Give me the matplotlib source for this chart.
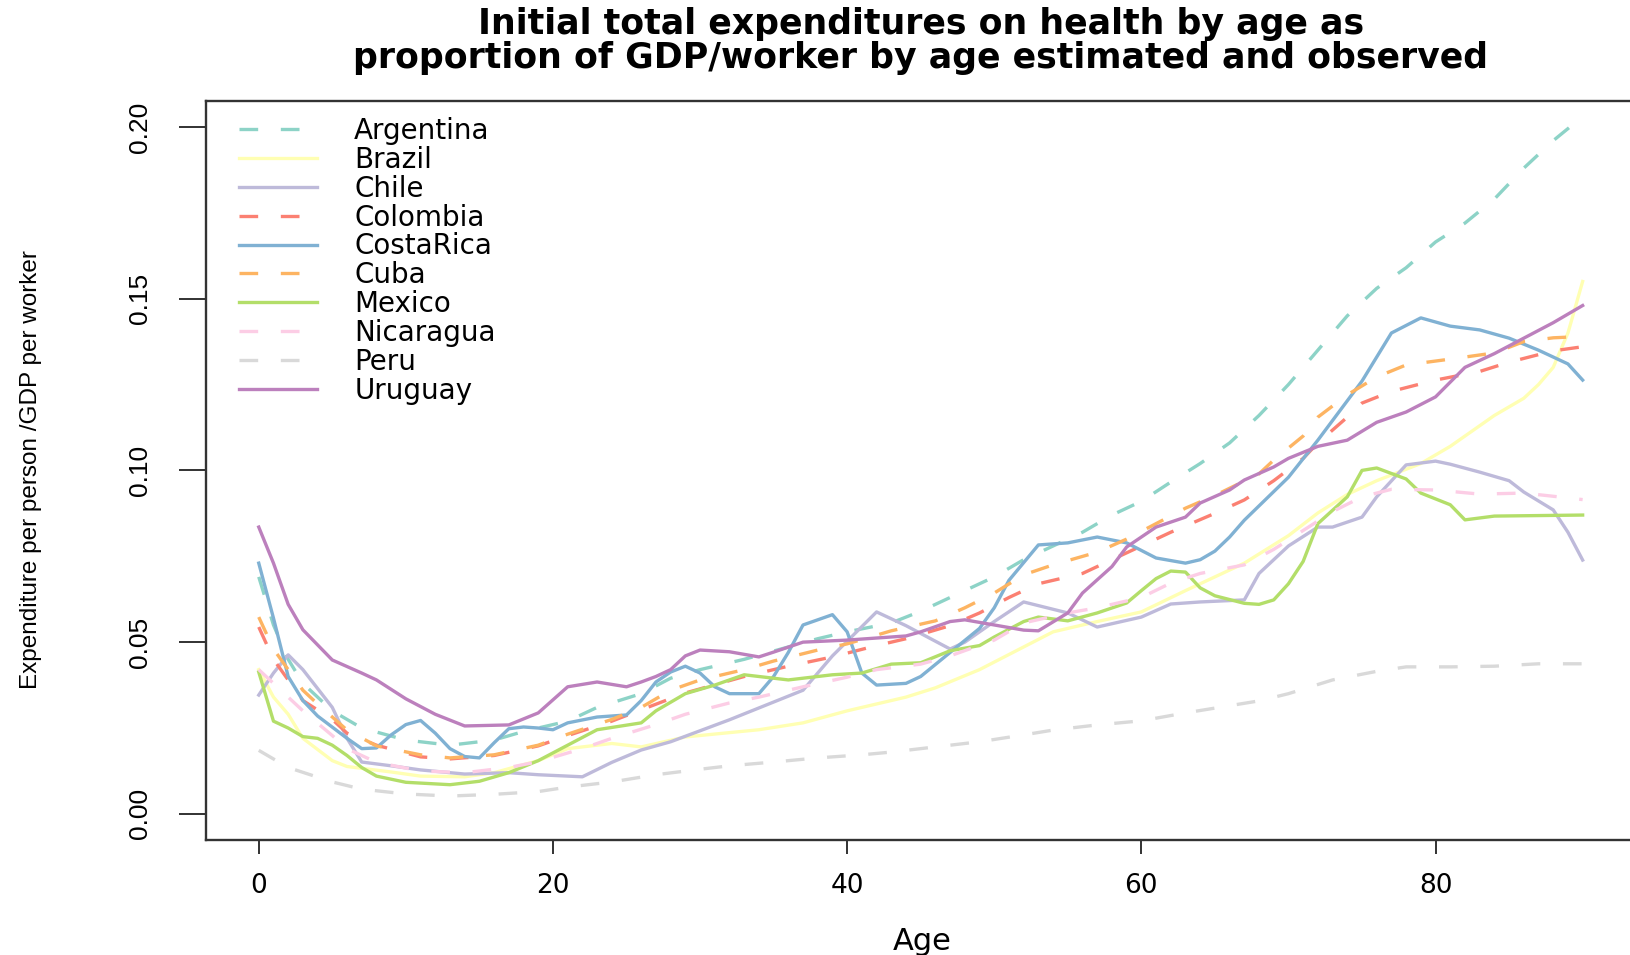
import matplotlib
matplotlib.use("Agg")
import matplotlib.pyplot as plt
from matplotlib import font_manager

# ---------------- data ----------------
countries = ["Argentina", "Brazil", "Chile", "Colombia", "CostaRica",
             "Cuba", "Mexico", "Nicaragua", "Peru", "Uruguay"]

argentina_age = [0, 1, 2, 3, 5, 7, 10, 13, 16, 18, 21, 23, 26, 28, 30, 33, 38, 40, 43, 45,
                 48, 50, 52, 54, 56, 58, 60, 62, 64, 66, 68, 70, 72, 74, 76, 78, 80, 82, 84, 86, 88, 90]
argentina = [0.069, 0.055, 0.045, 0.038, 0.030, 0.025, 0.0215, 0.020, 0.0215, 0.024, 0.027, 0.031,
             0.035, 0.0395, 0.042, 0.045, 0.051, 0.053, 0.0556, 0.059, 0.065, 0.069, 0.074, 0.078,
             0.082, 0.087, 0.091, 0.0966, 0.102, 0.108, 0.116, 0.125, 0.135, 0.145, 0.153, 0.159,
             0.1665, 0.172, 0.179, 0.188, 0.196, 0.203]

brazil_age = [0, 1, 2, 3, 5, 6, 9, 11, 14, 16, 19, 21, 23, 24, 26, 29, 34, 37, 40, 44, 46, 49, 52,
              54, 57, 60, 63, 65, 67, 70, 72, 74, 76, 79, 81, 84, 86, 87, 88, 89, 90]
brazil = [0.042, 0.034, 0.029, 0.022, 0.0155, 0.0138, 0.0122, 0.011, 0.0108, 0.012, 0.0155, 0.019,
          0.020, 0.0205, 0.0195, 0.0224, 0.0245, 0.0265, 0.030, 0.034, 0.0367, 0.042, 0.0486, 0.053,
          0.056, 0.0588, 0.065, 0.069, 0.073, 0.081, 0.0876, 0.093, 0.097, 0.102, 0.107, 0.116,
          0.121, 0.125, 0.130, 0.140, 0.155]

chile_age = [0, 1, 2, 3, 5, 6, 7, 9, 11, 14, 17, 19, 22, 24, 26, 28, 32, 37, 39, 42, 44, 47, 48, 50,
             52, 55, 57, 60, 62, 64, 67, 68, 70, 72, 73, 75, 76, 78, 80, 81, 83, 85, 86, 88, 89, 90]
chile = [0.0346, 0.041, 0.0463, 0.042, 0.031, 0.022, 0.0151, 0.014, 0.0128, 0.0116, 0.012, 0.0114,
         0.0108, 0.015, 0.0186, 0.021, 0.0274, 0.036, 0.046, 0.0588, 0.0548, 0.048, 0.050, 0.056,
         0.0617, 0.0585, 0.0544, 0.0573, 0.0611, 0.0617, 0.0623, 0.070, 0.078, 0.0835, 0.0835,
         0.0864, 0.0923, 0.1016, 0.1027, 0.1018, 0.0995, 0.097, 0.0937, 0.0885, 0.082, 0.0739]

colombia_age = [0, 1, 3, 5, 6, 8, 11, 13, 16, 19, 21, 24, 26, 29, 33, 36, 39, 42, 44, 47, 49, 51,
                53, 56, 58, 60, 62, 65, 67, 69, 71, 72, 74, 75, 77, 80, 83, 85, 88, 90]
colombia = [0.0544, 0.045, 0.033, 0.0275, 0.0235, 0.020, 0.0166, 0.016, 0.017, 0.0198, 0.0228,
            0.027, 0.0303, 0.0352, 0.040, 0.043, 0.0457, 0.049, 0.051, 0.0548, 0.0585, 0.063, 0.067,
            0.070, 0.074, 0.078, 0.082, 0.0875, 0.0914, 0.097, 0.1035, 0.108, 0.1155, 0.1196,
            0.123, 0.1263, 0.1288, 0.1315, 0.1348, 0.136]

costarica_age = [0, 1, 2, 3, 4, 6, 7, 8, 9, 10, 11, 12, 13, 14, 15, 16, 17, 18, 19, 20, 21, 23,
                 25, 26, 27, 28, 29, 30, 31, 32, 34, 35, 36, 37, 39, 40, 41, 42, 44, 45, 47, 49,
                 50, 51, 53, 55, 57, 59, 61, 63, 64, 65, 66, 67, 70, 72, 75, 77, 79, 81, 83, 85,
                 87, 89, 90]
costarica = [0.073, 0.057, 0.040, 0.033, 0.0285, 0.022, 0.019, 0.0192, 0.023, 0.026, 0.0272,
             0.0235, 0.019, 0.0167, 0.0163, 0.0207, 0.0248, 0.0253, 0.025, 0.0245, 0.0265, 0.0282,
             0.0288, 0.033, 0.0384, 0.0413, 0.043, 0.041, 0.037, 0.035, 0.035, 0.040, 0.047, 0.055,
             0.058, 0.053, 0.041, 0.0375, 0.038, 0.040, 0.047, 0.054, 0.060, 0.068, 0.0783, 0.0789,
             0.0806, 0.0789, 0.0745, 0.073, 0.074, 0.0765, 0.0806, 0.0855, 0.098, 0.1088, 0.126,
             0.140, 0.1444, 0.142, 0.1409, 0.1385, 0.135, 0.131, 0.1263]

cuba_age = [0, 1, 3, 4, 6, 8, 11, 13, 16, 19, 21, 24, 26, 28, 30, 33, 35, 38, 40, 43, 46, 48, 50,
            52, 54, 57, 59, 61, 63, 65, 68, 69, 71, 72, 74, 76, 78, 81, 84, 86, 88, 90]
cuba = [0.0573, 0.048, 0.036, 0.032, 0.0244, 0.0198, 0.0172, 0.0163, 0.0172, 0.020, 0.0232, 0.0275,
        0.031, 0.036, 0.039, 0.042, 0.0445, 0.0477, 0.0495, 0.0533, 0.0562, 0.060, 0.0643, 0.0696,
        0.0725, 0.0762, 0.080, 0.0845, 0.089, 0.0927, 0.099, 0.103, 0.110, 0.1155, 0.122, 0.1272,
        0.1307, 0.1324, 0.1342, 0.1375, 0.1386, 0.139]

mexico_age = [0, 1, 2, 3, 4, 5, 6, 7, 8, 10, 13, 15, 17, 19, 21, 23, 26, 27, 29, 31, 33, 36, 39,
              41, 43, 45, 47, 49, 50, 52, 53, 55, 57, 59, 60, 61, 62, 63, 64, 65, 67, 68, 69, 70,
              71, 72, 74, 75, 76, 78, 79, 81, 82, 84, 90]
mexico = [0.0413, 0.027, 0.025, 0.0225, 0.022, 0.020, 0.017, 0.0135, 0.011, 0.0092, 0.0085,
          0.0095, 0.012, 0.0155, 0.020, 0.0245, 0.0265, 0.030, 0.035, 0.0375, 0.0405, 0.039,
          0.0405, 0.041, 0.0436, 0.044, 0.0475, 0.049, 0.0515, 0.056, 0.0573, 0.0562, 0.0585,
          0.0614, 0.065, 0.0685, 0.0707, 0.0704, 0.0658, 0.0635, 0.0613, 0.061, 0.0623, 0.067,
          0.0735, 0.0845, 0.0923, 0.100, 0.1007, 0.0975, 0.0934, 0.090, 0.0856, 0.0867, 0.087]

nicaragua_age = [0, 1, 3, 5, 6, 8, 11, 14, 17, 19, 22, 24, 27, 29, 32, 34, 37, 40, 42, 45, 47, 50,
                 52, 55, 57, 60, 62, 64, 67, 69, 71, 73, 75, 77, 80, 83, 86, 89, 90]
nicaragua = [0.042, 0.038, 0.030, 0.0228, 0.019, 0.015, 0.0125, 0.012, 0.0135, 0.0152, 0.019,
             0.022, 0.026, 0.029, 0.0323, 0.034, 0.037, 0.0398, 0.042, 0.0436, 0.046, 0.0506,
             0.0556, 0.0585, 0.060, 0.063, 0.0672, 0.070, 0.0725, 0.077, 0.0825, 0.088, 0.0923,
             0.0945, 0.0943, 0.0931, 0.0934, 0.092, 0.0915]

peru_age = [0, 2, 5, 7, 10, 13, 16, 19, 21, 24, 27, 30, 32, 35, 38, 41, 43, 46, 49, 52, 54, 57,
            60, 63, 65, 68, 70, 73, 76, 78, 81, 84, 87, 90]
peru = [0.0185, 0.0135, 0.0093, 0.0072, 0.0058, 0.0052, 0.0057, 0.0065, 0.0078, 0.0093, 0.0114,
        0.013, 0.014, 0.0151, 0.0163, 0.0172, 0.018, 0.0195, 0.021, 0.023, 0.0244, 0.0259, 0.0271,
        0.0294, 0.0308, 0.0329, 0.035, 0.039, 0.0415, 0.0428, 0.0428, 0.043, 0.0437, 0.0437]

uruguay_age = [0, 1, 2, 3, 5, 7, 8, 10, 12, 14, 17, 19, 21, 23, 25, 26, 27, 28, 29, 30, 32, 34,
               35, 37, 40, 44, 45, 47, 48, 50, 52, 53, 55, 56, 58, 59, 61, 63, 64, 66, 67, 69, 70,
               72, 74, 76, 78, 80, 81, 82, 84, 86, 88, 90]
uruguay = [0.0835, 0.073, 0.061, 0.0536, 0.0448, 0.041, 0.039, 0.0335, 0.029, 0.0256, 0.0259,
           0.0294, 0.037, 0.0384, 0.037, 0.0384, 0.040, 0.042, 0.046, 0.0477, 0.0472, 0.0457,
           0.0471, 0.050, 0.0506, 0.0518, 0.053, 0.056, 0.0565, 0.055, 0.0535, 0.0533, 0.0585,
           0.0643, 0.072, 0.0777, 0.0835, 0.0864, 0.0905, 0.0943, 0.0972, 0.101, 0.1035, 0.107,
           0.1088, 0.114, 0.117, 0.1214, 0.1257, 0.130, 0.134, 0.1385, 0.143, 0.148]

x_ticks = [0, 20, 40, 60, 80]
y_ticks = [0.00, 0.05, 0.10, 0.15, 0.20]
y_tick_labels = ["0.00", "0.05", "0.10", "0.15", "0.20"]

title = ("Initial total expenditures on health by age as\n"
         "proportion of GDP/worker by age estimated and observed")
x_label = "Age"
y_label = "Expenditure per person /GDP per worker"

# ---------------- style ----------------
colors = ["#8DD3C7", "#FFFFB3", "#BEBADA", "#FB8072", "#80B1D3",
          "#FDB462", "#B3DE69", "#FCCDE5", "#D9D9D9", "#BC80BD"]
dashed = [True, False, False, True, False, True, False, True, True, False]

names = {f.name for f in font_manager.fontManager.ttflist}
narrow = ["Liberation Sans Narrow", "Liberation Sans", "DejaVu Sans"]
narrow = [f for f in narrow if f in names] or ["DejaVu Sans"]

W, H = 1630, 955
fig = plt.figure(figsize=(W / 100, H / 100), dpi=100)
left_px, right_px, top_px, bot_px = 205.8, 1635.6, 100.8, 840.0
ax_w, ax_h = right_px - left_px, bot_px - top_px
ax = fig.add_axes([left_px / W, 1 - bot_px / H, ax_w / W, ax_h / H])

series = [(argentina_age, argentina), (brazil_age, brazil), (chile_age, chile),
          (colombia_age, colombia), (costarica_age, costarica), (cuba_age, cuba),
          (mexico_age, mexico), (nicaragua_age, nicaragua), (peru_age, peru),
          (uruguay_age, uruguay)]

for i, (name, (xa, ya)) in enumerate(zip(countries, series)):
    kw = dict(color=colors[i], lw=2.4, label=name, zorder=2 + i * 0.01,
              solid_joinstyle="round", dash_capstyle="butt")
    if dashed[i]:
        kw["dashes"] = (5.6, 6.8)
    ax.plot(xa, ya, **kw)

ax.set_xlim(-3.6, 93.6)
ax.set_ylim(-0.0076, 0.2076)
ax.set_xticks(x_ticks)
ax.set_xticklabels([str(t) for t in x_ticks], family="DejaVu Sans", fontsize=19)
ax.set_yticks(y_ticks)
ax.set_yticklabels(y_tick_labels, family=narrow, fontsize=19, rotation=90, va="center")
ax.tick_params(axis="x", length=10, width=1.3, pad=14, color="#222222")
ax.tick_params(axis="y", length=19.5, width=1.3, pad=19, color="#222222")
for sp in ax.spines.values():
    sp.set_linewidth(1.7)
    sp.set_color("#333333")

ax.set_xlabel(x_label, family="DejaVu Sans", fontsize=22, va="center")
ax.xaxis.set_label_coords((922 - left_px) / ax_w, (bot_px - 941) / ax_h)
ax.set_ylabel(y_label, family=narrow, fontsize=17.5, va="center")
ax.yaxis.set_label_coords((31 - left_px) / ax_w, (bot_px - 470) / ax_h)

fig.text((left_px + right_px) / 2 / W, 1 - 41 / H, title, ha="center", va="center",
         fontsize=25, fontweight="bold", family="DejaVu Sans", linespacing=1.0)

leg = ax.legend(loc="upper left", bbox_to_anchor=((239 - left_px) / ax_w,
                                                   (bot_px - 117) / ax_h),
                frameon=False, handlelength=2.8, handletextpad=1.35,
                labelspacing=0.03, borderpad=0, borderaxespad=0,
                prop={"family": "DejaVu Sans", "size": 20})

fig.savefig("out.png", dpi=100)
